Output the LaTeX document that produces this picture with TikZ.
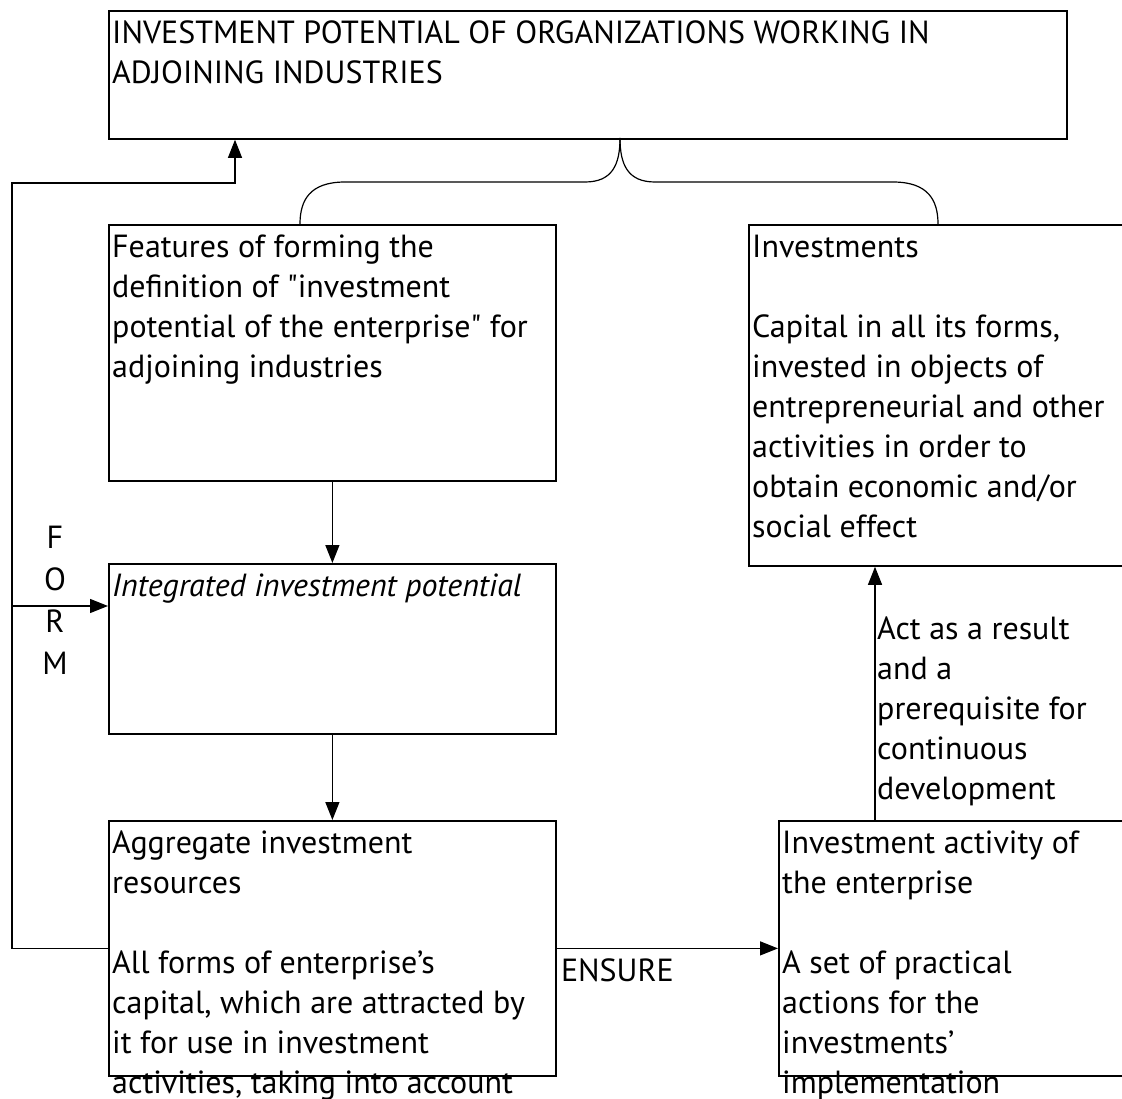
\documentclass[tikz,border=0pt]{standalone}
\usepackage{fontspec}
\setmainfont{PT Sans}
\usetikzlibrary{arrows.meta,positioning}

\begin{document}
\begin{tikzpicture}[x=1pt,y=-1pt,>={Triangle[length=18pt,width=14pt]},
    % Define the style for the boxes and their texts
    box/.style={draw, line width=1.8pt, inner sep=0pt, anchor=north west},
    box text/.style={anchor=north west, align=left, inner sep=0pt,
        font=\fontsize{32}{40}\selectfont},
    % Define the style for the connecting lines
    connection/.style={->, line width=1.2pt},
    link/.style={line width=1.2pt}
]

\useasboundingbox (0,0) rectangle (1122,1099);
\clip (0,0) rectangle (1122,1099);

% Determine the offset of a text from the corner of its box
\def\textsepx{4pt}
\def\textsepy{11pt}

% Top box
\node[box, minimum width=958pt, minimum height=128pt] (top) at (108,10) {};
\node[box text, below right=\textsepy and \textsepx of top.north west] (top-text)
    {INVESTMENT POTENTIAL OF ORGANIZATIONS WORKING IN\\ADJOINING INDUSTRIES};

% Left column of boxes
\node[box, minimum width=447pt, minimum height=256pt] (features) at (108,224) {};
\node[box text, below right=\textsepy and \textsepx of features.north west] (features-text)
    {Features of forming the\\definition of \textquotedbl investment\\potential of the enterprise\textquotedbl{} for\\adjoining industries};

\node[box, minimum width=447pt, minimum height=170pt] (integrated) at (108,563) {};
\node[box text, below right=\textsepy and \textsepx of integrated.north west] (integrated-text)
    {\itshape Integrated investment potential};

\node[box, minimum width=447pt, minimum height=255pt] (aggregate) at (108,820) {};
\node[box text, below right=\textsepy and \textsepx of aggregate.north west] (aggregate-text)
    {Aggregate investment\\resources\\[40pt]All forms of enterprise's\\capital, which are attracted by\\it for use in investment\\activities, taking into account};

% Right column of boxes
\node[box, minimum width=390pt, minimum height=341pt] (investments) at (748,224) {};
\node[box text, below right=\textsepy and \textsepx of investments.north west] (investments-text)
    {Investments\\[40pt]Capital in all its forms,\\invested in objects of\\entrepreneurial and other\\activities in order to\\obtain economic and/or\\social effect};

\node[box, minimum width=360pt, minimum height=255pt] (activity) at (778,820) {};
\node[box text, below right=\textsepy and \textsepx of activity.north west] (activity-text)
    {Investment activity of\\the enterprise\\[40pt]A set of practical\\actions for the\\investments'\\implementation};

% Brace joining the two upper boxes to the top box
\coordinate (brace-tip) at (620,138);
\draw[link] (features.north -| 300,0) .. controls (300,200) and (310,182) .. (345,182)
    -- (585,182) .. controls (612,182) and (620,165) .. (brace-tip);
\draw[link] (investments.north -| 938,0) .. controls (938,200) and (928,182) .. (893,182)
    -- (655,182) .. controls (628,182) and (620,165) .. (brace-tip);

% Vertical arrows of the left column
\draw[connection] (features) -- (integrated);
\draw[connection] (integrated) -- (aggregate);

% Feedback frame on the left
\coordinate (frame-top) at (12,183);
\coordinate (form-in) at ([yshift=-43pt]integrated.north west);
\draw[connection] (aggregate.west) -| (frame-top) -| (top.south -| 235,0);
\draw[connection] (frame-top |- form-in) -- (form-in);
\node[font=\fontsize{32}{42}\selectfont, align=center, inner sep=0pt] (form) at (55,600) {F\\O\\R\\M};

% Arrow to the investment activity
\draw[connection] (aggregate.east) -- (activity.west);
\node[box text, below right=10pt and 4pt of aggregate.east] (ensure) {ENSURE};

% Arrow from the investment activity up to the investments
\coordinate (act-out) at (activity.north -| 875,0);
\draw[connection] (act-out) -- (investments.south -| act-out);
\node[box text, right=2pt of act-out, anchor=north west, yshift=203pt] (act-label)
    {Act as a result\\and a\\prerequisite for\\continuous\\development};

\end{tikzpicture}
\end{document}
